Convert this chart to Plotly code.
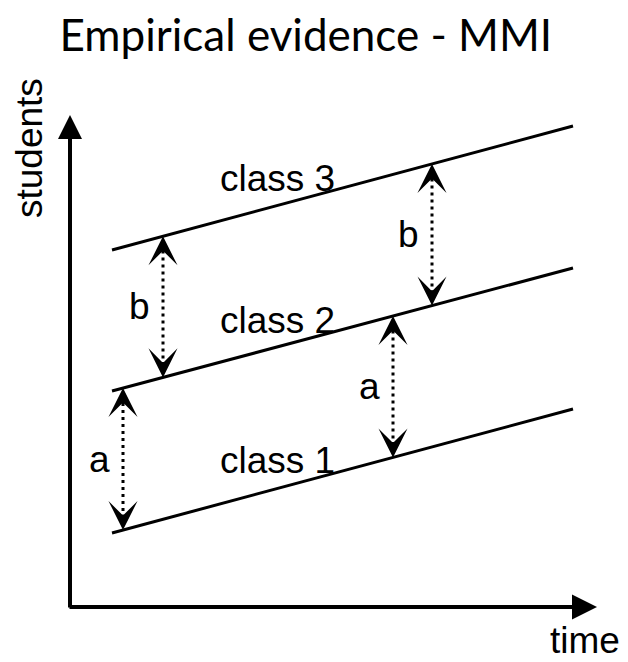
import plotly.graph_objects as go

# ---- data (diagram units: time to the right, students upward, origin at the axes corner)
time_start = 42
time_end = 503
class_names = ["class 1", "class 2", "class 3"]
class_start = [74, 216, 357]
class_end = [198, 339, 481]
class_label_time = [148, 148, 148]
class_label_level = [147, 287, 429]

gap_labels = ["a", "b", "a", "b"]
gap_time = [53, 93, 323, 362]
gap_lower_class = [0, 1, 0, 1]

axis_time_max = 527
axis_students_max = 492

title_text = "Empirical evidence - MMI"
x_label = "time"
y_label = "students"


def level(ci, t):
    return class_start[ci] + (class_end[ci] - class_start[ci]) * (t - time_start) / (time_end - time_start)


fig = go.Figure()

# class lines
for i, name in enumerate(class_names):
    fig.add_trace(go.Scatter(
        x=[time_start, time_end], y=[class_start[i], class_end[i]],
        mode="lines", line=dict(color="black", width=3), hoverinfo="skip", showlegend=False))
    fig.add_annotation(x=class_label_time[i], y=class_label_level[i], text=name,
                       showarrow=False, xanchor="left", yanchor="middle",
                       font=dict(family="Liberation Sans, Arial", size=37, color="black"))

# dotted double arrows
for lab, t, lc in zip(gap_labels, gap_time, gap_lower_class):
    y0 = level(lc, t)
    y1 = level(lc + 1, t)
    fig.add_trace(go.Scatter(
        x=[t, t], y=[y0 + 12, y1 - 12], mode="lines",
        line=dict(color="black", width=3, dash="3px,4px"), hoverinfo="skip", showlegend=False))
    # arrow heads
    fig.add_annotation(x=t, y=y1, ax=0, ay=14, axref="pixel", ayref="pixel", text="",
                       showarrow=True, arrowhead=3, arrowsize=2.2, arrowwidth=2.2, arrowcolor="black")
    fig.add_annotation(x=t, y=y0, ax=0, ay=-14, axref="pixel", ayref="pixel", text="",
                       showarrow=True, arrowhead=3, arrowsize=2.2, arrowwidth=2.2, arrowcolor="black")
    fig.add_annotation(x=t - 11, y=(y0 + y1) / 2, text=lab, showarrow=False,
                       xanchor="right", yanchor="middle",
                       font=dict(family="Liberation Sans, Arial", size=37, color="black"))

# axes with arrow heads
fig.add_annotation(x=axis_time_max, y=0, ax=-2, ay=0, axref="x", ayref="y", text="",
                   showarrow=True, arrowhead=2, arrowsize=1.25, arrowwidth=4, arrowcolor="black")
fig.add_annotation(x=0, y=axis_students_max, ax=0, ay=-2, axref="x", ayref="y", text="",
                   showarrow=True, arrowhead=2, arrowsize=1.2, arrowwidth=4, arrowcolor="black")

fig.add_annotation(x=515, y=-33, text=x_label, showarrow=False, xanchor="center", yanchor="middle",
                   borderpad=0, font=dict(family="Liberation Sans, Arial", size=37, color="black"))
fig.add_annotation(x=-41, y=459, text=y_label, showarrow=False, textangle=-90,
                   xanchor="center", yanchor="middle",
                   font=dict(family="Liberation Sans, Arial", size=37, color="black"))

fig.update_layout(
    width=628, height=662, autosize=False,
    margin=dict(l=0, r=0, t=0, b=0),
    paper_bgcolor="white", plot_bgcolor="white",
    title=dict(text=title_text, x=0.487, xanchor="center", y=1 - 36 / 662, yanchor="middle",
               yref="container", font=dict(family="Lato, Open Sans", size=44, color="black")),
    xaxis=dict(range=[-70, 558], visible=False, fixedrange=True),
    yaxis=dict(range=[-55, 607], visible=False, fixedrange=True),
    showlegend=False,
)

fig.write_html("out.html", config={"displayModeBar": False},
               post_script="document.body.style.margin='0';document.body.style.overflow='hidden';")
